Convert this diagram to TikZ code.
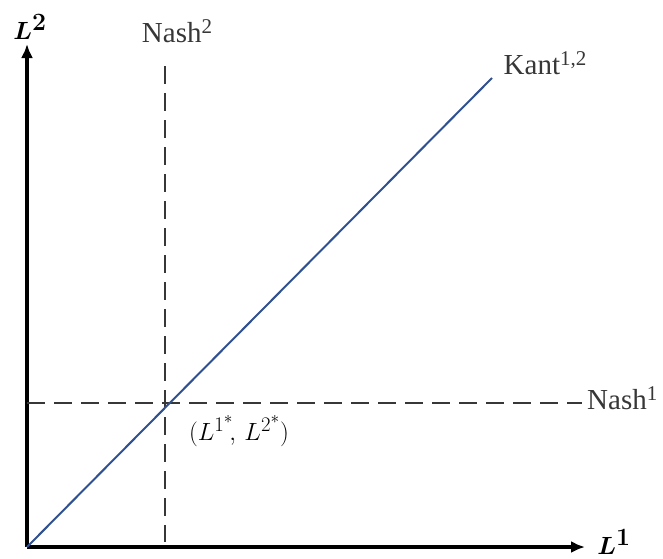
\documentclass[tikz,border=0pt]{standalone}
\usepackage{fontspec}
\setmainfont{Liberation Serif}
\usepackage{bm}
\usetikzlibrary{arrows.meta}
\definecolor{kantblue}{RGB}{47,80,145}
\definecolor{nashgray}{RGB}{55,55,55}
\newcommand{\supx}[1]{\raisebox{9pt}{\fontsize{21}{21}\selectfont #1}}
\tikzset{
    axis/.style={line width=3.5pt, -{Latex[length=14pt,width=12pt]}},
    nashline/.style={nashgray, line width=1.8pt, dash pattern=on 18pt off 9pt},
    kantline/.style={kantblue, line width=2pt},
    lbl/.style={text=nashgray, font=\fontsize{29}{32}\selectfont, inner sep=0pt},
    axlbl/.style={font=\fontsize{34}{37}\selectfont, inner sep=0pt}
}
\begin{document}
\begin{tikzpicture}[x=1pt, y=-1pt]
    \useasboundingbox (0,0) rectangle (663,558);

    \coordinate (O) at (27,547);
    \coordinate (xend) at (585,547);
    \coordinate (yend) at (27,44);

    \draw[axis] (O) -- (xend);
    \draw[axis] (O) -- (yend);
    \node[axlbl] (L1) at (614,542) {$\bm{L^1}$};
    \node[axlbl] (L2) at (30,27) {$\bm{L^2}$};

    % the two reaction lines
    \coordinate (n2top) at (165,66);
    \coordinate (n2bot) at (165,542);
    \coordinate (n1left) at (27,403);
    \coordinate (n1right) at (582,403);
    \draw[nashline] (n2top) -- (n2bot);
    \draw[nashline] (n1left) -- (n1right);
    \node[lbl] (nash2) at (177,31) {Nash\supx{2}};
    \node[lbl, anchor=west] (nash1) at (587,398) {Nash\supx{1}};

    \coordinate (kanttop) at (492,78);
    \draw[kantline] (O) -- (kanttop);
    \node[lbl] (kant) at (545,63) {Kant\supx{1,2}};

    \node[lbl, text=black, font=\fontsize{32}{35}\selectfont] (eq) at (239,431) {$(L^{1^*}\!,\,L^{2^*})$};
\end{tikzpicture}
\end{document}
